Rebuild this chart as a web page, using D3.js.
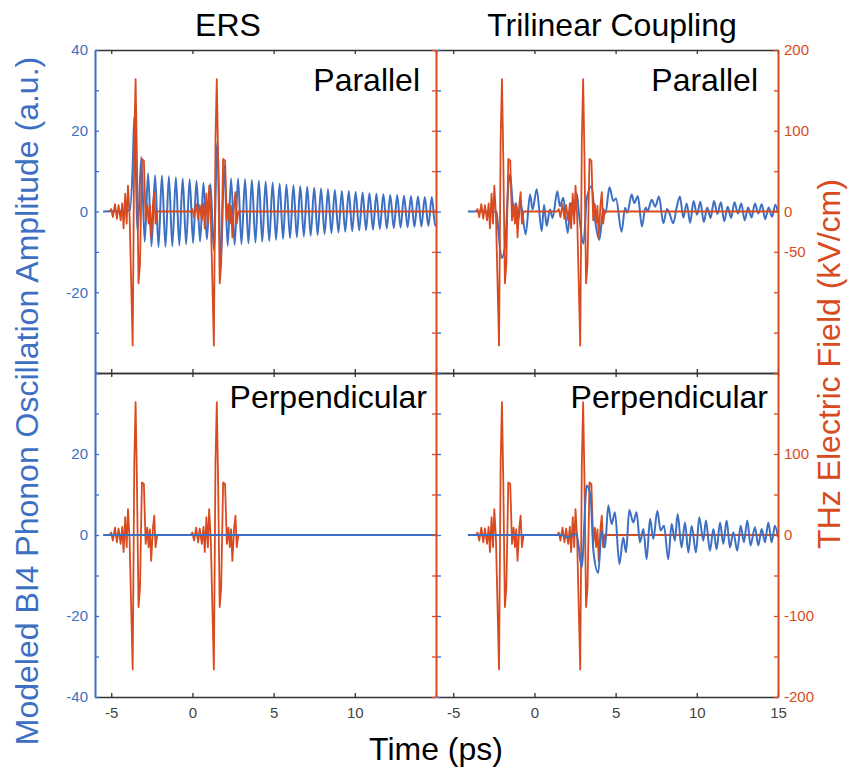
<!DOCTYPE html>
<html>
<head>
<meta charset="utf-8">
<script src="https://cdn.jsdelivr.net/npm/d3@7"></script>
<style>
  body { margin: 0; background: #fff; }
  text { font-family: "Liberation Sans", Arial, Helvetica, sans-serif; }
</style>
</head>
<body>
<div id="chart"></div>
<script>
// Size of the SVG Container
const width = 849;
const height = 770;
const blue = "#3d6fc2";
const red = "#d84b20";
const frameColor = "#333333";

// Tick values and labels
const timeTicks = [-5, 0, 5, 10, 15];
const ampTicks = [-40, -30, -20, -10, 0, 10, 20, 30, 40];
const fieldTicks = [-200, -150, -100, -50, 0, 50, 100, 150, 200];
const ampLabelsTop = [40, 20, 0, -20];
const ampLabelsBottom = [20, 0, -20, -40];
const fieldLabelsTop = [200, 100, 0, -50];
const fieldLabelsBottom = [100, 0, -100, -200];

// THz pulse shape: time relative to the main peak (ps) and field (kV/cm)
const pulseDt = [-1.60, -1.50, -1.40, -1.27, -1.15, -1.05, -0.92, -0.82, -0.74, -0.64, -0.55, -0.47,
  -0.37, -0.29, -0.18, -0.08, 0, 0.08, 0.18, 0.27, 0.39, 0.51, 0.62, 0.72, 0.80, 0.88, 0.96,
  1.07, 1.15, 1.23, 1.33];
const pulseField = [0, 3, -7, 9, -9, 8, -11, 10, -21, 22, -15, 32,
  -5, -73, -166, 90, 164, 69, -89, -65, 65, 63, -11, 9, -15, 7, -32,
  9, 24, -15, 0];

// Main peak times of the two THz pulses (ps)
const ersPulses = [-3.5, 1.5];
const triPulses = [-2.0, 3.0];

// ERS parallel: phonon oscillation extrema [time (ps), amplitude (a.u.)]
const ersParallel = [[-5.5, 0], [-3.85, 0.3], [-3.68, 11], [-3.58, 23.5], [-3.37, -5], [-3.15, 13.5],
  [-2.94, -7.5], [-2.73, 9.5], [-2.52, -8.6], [-2.30, 9.0], [-2.09, -8.8], [-1.88, 8.9], [-1.66, -8.7],
  [-1.45, 8.7], [-1.24, -8.6], [-1.02, 8.5], [-0.81, -8.4], [-0.60, 8.2], [-0.39, -8.1], [-0.17, 8.0],
  [0.04, -7.8], [0.25, 7.6], [0.47, -7.4], [0.68, 7.1], [0.89, -6.9], [1.11, 6.8], [1.32, -9.5],
  [1.53, 17.0], [1.75, -12.5], [1.96, 11.5], [2.17, -8.5], [2.38, 8.2], [2.60, -8.3], [2.81, 8.2],
  [3.02, -8.1], [3.24, 8.0], [3.45, -7.9], [3.66, 7.8], [3.88, -7.7], [4.09, 7.6], [4.30, -7.5],
  [4.51, 7.4], [4.73, -7.3], [4.94, 7.2], [5.15, -7.0], [5.37, 6.9], [5.58, -6.8], [5.79, 6.7],
  [6.01, -6.6], [6.22, 6.5], [6.43, -6.4], [6.64, 6.3], [6.86, -6.2], [7.07, 6.1], [7.28, -6.0],
  [7.50, 5.9], [7.71, -5.8], [7.92, 5.7], [8.14, -5.6], [8.35, 5.5], [8.56, -5.4], [8.77, 5.3],
  [8.99, -5.2], [9.20, 5.1], [9.41, -5.0], [9.63, 5.0], [9.84, -4.9], [10.05, 4.8], [10.27, -4.7],
  [10.48, 4.7], [10.69, -4.6], [10.90, 4.5], [11.12, -4.5], [11.33, 4.4], [11.54, -4.3], [11.76, 4.3],
  [11.97, -4.2], [12.18, 4.1], [12.40, -4.1], [12.61, 4.0], [12.82, -4.0], [13.03, 3.9], [13.25, -3.9],
  [13.46, 3.8], [13.67, -3.8], [13.89, 3.7], [14.10, -3.7], [14.31, 3.6], [14.53, -3.6], [14.74, 3.6],
  [14.95, -3.5], [15.0, -3.2]];

// ERS perpendicular: no phonon response
const ersPerpendicular = [[-5.5, 0], [15.0, 0]];

// Trilinear parallel
const triParallel = [[-4.1, 0], [-2.33, 0], [-2.22, -4.9], [-2.02, -11.5], [-1.81, -8.6], [-1.61, 6.3],
  [-1.50, 9.2], [-1.36, 3.0], [-1.26, -1.2], [-1.14, 2.1], [-0.99, -2.0], [-0.85, 2.1], [-0.54, -5.7],
  [-0.27, 4.2], [-0.11, 0.5], [0.14, 5.5], [0.45, -4.9], [0.59, 1.7], [0.75, -3.6], [0.96, 0.5],
  [1.12, -1.6], [1.41, 5.0], [1.57, 1.3], [1.78, 3.4], [2.05, -5.3], [2.25, 2.1], [2.46, -0.3],
  [2.60, 4.6], [2.76, -1.2], [3.02, -8.0], [3.22, 3.0], [3.52, 6.3], [3.73, -2.0], [4.00, -7.0],
  [4.24, 0.6], [4.38, -0.4], [4.62, 6.0], [4.86, 2.6], [5.02, 3.2], [5.37, -5.0], [5.58, 0.9],
  [5.72, -0.3], [5.99, 4.2], [6.15, 2.1], [6.37, 3.8], [6.62, -3.7], [6.84, 1.0], [6.98, 0.2],
  [7.22, 2.9], [7.44, 1.2], [7.67, 3.7], [7.94, -2.9], [8.16, 0.6], [8.32, -0.5], [8.55, -2.9],
  [8.76, 1.0], [8.96, 3.7], [9.17, -1.5], [9.38, 2.0], [9.59, -2.8], [9.80, 2.6], [10.01, -0.8],
  [10.22, 2.4], [10.43, -2.6], [10.64, 1.0], [10.85, -1.6], [11.06, 2.6], [11.27, -0.6], [11.48, 2.3],
  [11.69, -2.4], [11.90, 1.2], [12.11, -1.6], [12.32, 2.3], [12.53, -0.5], [12.74, 2.0], [12.95, -2.2],
  [13.16, 1.0], [13.37, -1.5], [13.58, 2.0], [13.79, -0.5], [14.00, 1.8], [14.21, -1.9], [14.42, 1.0],
  [14.63, -1.3], [14.84, 1.7], [15.0, -0.3]];

// Trilinear perpendicular
const triPerpendicular = [[-4.1, 0], [1.70, 0], [1.98, -0.6], [2.60, 0.25], [2.91, -8.0], [3.22, 12.2],
  [3.46, 9.3], [3.63, -3.9], [3.93, -9.3], [4.14, 1.1], [4.34, -3.1], [4.55, 7.3], [4.75, 2.7],
  [4.96, 5.6], [5.23, -7.2], [5.47, -0.6], [5.64, -4.3], [5.84, 6.2], [6.09, 3.1], [6.29, 5.6],
  [6.50, -1.8], [6.71, 1.5], [6.91, -6.0], [7.12, 4.0], [7.32, -1.0], [7.57, 6.0], [7.77, 1.1],
  [7.98, 2.3], [8.24, -6.0], [8.45, 2.7], [8.65, -1.4], [8.82, 5.2], [9.06, -3.1], [9.27, 3.1],
  [9.48, -4.3], [9.68, 2.3], [9.95, -4.3], [10.15, 4.4], [10.40, -1.4], [10.56, 3.6], [10.81, -3.9],
  [11.02, 1.5], [11.22, -3.5], [11.43, 3.1], [11.63, -2.2], [11.84, 3.6], [12.04, -3.1], [12.25, 0.7],
  [12.49, -3.9], [12.70, 2.3], [12.90, -1.8], [13.11, 3.6], [13.31, -2.6], [13.58, 1.9], [13.79, -2.6],
  [13.99, 1.5], [14.20, -1.8], [14.40, 3.1], [14.61, -1.8], [14.81, 2.3], [15.0, -0.6]];

// Create the SVG Container
const svg = d3.select("#chart")
  .append("svg")
  .attr("width", width)
  .attr("height", height);

// Panel frames
const colLeft = [95, 436];
const colRight = [437, 778];
const rowTop = [50, 373];
const rowBottom = [373, 697];

const panels = [
  { id: "ersPar", cols: colLeft, rows: rowTop, pulses: ersPulses, phonon: ersParallel, label: "Parallel", labelX: 420, labelY: 91, redOnTop: true, isLeft: true, isBottom: false },
  { id: "triPar", cols: colRight, rows: rowTop, pulses: triPulses, phonon: triParallel, label: "Parallel", labelX: 758, labelY: 91, redOnTop: true, isLeft: false, isBottom: false },
  { id: "ersPerp", cols: colLeft, rows: rowBottom, pulses: ersPulses, phonon: ersPerpendicular, label: "Perpendicular", labelX: 427, labelY: 408, redOnTop: false, isLeft: true, isBottom: true },
  { id: "triPerp", cols: colRight, rows: rowBottom, pulses: triPulses, phonon: triPerpendicular, label: "Perpendicular", labelX: 768, labelY: 408, redOnTop: false, isLeft: false, isBottom: true }
];

// Build THz trace from the pulse shape and pulse times
function thzTrace(pulses) {
  const pts = [];
  pulses.forEach(p => {
    pulseDt.forEach((dt, i) => pts.push([p + dt, pulseField[i]]));
  });
  pts.push([15, 0]);
  return pts;
}

const defs = svg.append("defs");

panels.forEach(panel => {
  const x = d3.scaleLinear().domain([-6, 15]).range(panel.cols);
  const yAmp = d3.scaleLinear().domain([-40, 40]).range([panel.rows[1], panel.rows[0]]);
  const yField = d3.scaleLinear().domain([-200, 200]).range([panel.rows[1], panel.rows[0]]);

  defs.append("clipPath").attr("id", "clip-" + panel.id)
    .append("rect")
    .attr("x", panel.cols[0]).attr("y", panel.rows[0])
    .attr("width", panel.cols[1] - panel.cols[0])
    .attr("height", panel.rows[1] - panel.rows[0]);

  const g = svg.append("g").attr("clip-path", "url(#clip-" + panel.id + ")");

  const phononLine = d3.line()
    .x(d => x(d[0]))
    .y(d => yAmp(d[1]))
    .curve(d3.curveMonotoneX);
  const fieldLine = d3.line()
    .x(d => x(d[0]))
    .y(d => yField(d[1]));

  function drawPhonon() {
    g.append("path").datum(panel.phonon)
      .attr("d", phononLine)
      .attr("fill", "none")
      .attr("stroke", blue)
      .attr("stroke-width", 2);
  }
  function drawField() {
    g.append("path").datum(thzTrace(panel.pulses))
      .attr("d", fieldLine)
      .attr("fill", "none")
      .attr("stroke", red)
      .attr("stroke-width", 1.8)
      .attr("stroke-linejoin", "round");
  }
  if (panel.redOnTop) { drawPhonon(); drawField(); } else { drawField(); drawPhonon(); }

  // Top and bottom time axes (inward ticks)
  const top = svg.append("g")
    .attr("transform", "translate(0," + panel.rows[0] + ")")
    .call(d3.axisTop(x).tickValues(timeTicks).tickSize(-4).tickSizeOuter(0).tickFormat(""));
  const bottomLabels = panel.isLeft ? [-5, 0, 5, 10] : timeTicks;
  const bottom = svg.append("g")
    .attr("transform", "translate(0," + panel.rows[1] + ")")
    .call(d3.axisBottom(x).tickValues(timeTicks).tickSize(-4).tickSizeOuter(0).tickPadding(10)
      .tickFormat(d => (panel.isBottom && bottomLabels.includes(d)) ? String(d) : ""));
  [top, bottom].forEach(a => {
    a.select(".domain").attr("stroke", frameColor).attr("stroke-width", 1.6);
    a.selectAll(".tick line").attr("stroke", frameColor).attr("stroke-width", 1.3);
    a.selectAll(".tick text").attr("fill", "#444").attr("font-size", 15)
      .attr("font-family", "Liberation Sans, Arial, sans-serif");
  });

  // Left amplitude axis
  const ampLabels = panel.isBottom ? ampLabelsBottom : ampLabelsTop;
  const left = svg.append("g")
    .attr("transform", "translate(" + panel.cols[0] + ",0)")
    .call(d3.axisLeft(yAmp).tickValues(ampTicks).tickSize(-4).tickSizeOuter(0).tickPadding(7)
      .tickFormat(d => (panel.isLeft && ampLabels.includes(d)) ? String(d) : ""));
  left.select(".domain").attr("stroke", panel.isLeft ? blue : "none").attr("stroke-width", 2);
  left.selectAll(".tick line").attr("stroke", blue).attr("stroke-width", 1.3);
  left.selectAll(".tick text").attr("fill", blue).attr("font-size", 15)
    .attr("font-family", "Liberation Sans, Arial, sans-serif");

  // Right field axis
  const fieldLabels = panel.isBottom ? fieldLabelsBottom : fieldLabelsTop;
  const right = svg.append("g")
    .attr("transform", "translate(" + panel.cols[1] + ",0)")
    .call(d3.axisRight(yField).tickValues(fieldTicks).tickSize(-4).tickSizeOuter(0).tickPadding(6)
      .tickFormat(d => (!panel.isLeft && fieldLabels.includes(d)) ? String(d) : ""));
  right.select(".domain").attr("stroke", red).attr("stroke-width", 2);
  right.selectAll(".tick line").attr("stroke", red).attr("stroke-width", 1.3);
  right.selectAll(".tick text").attr("fill", red).attr("font-size", 15)
    .attr("font-family", "Liberation Sans, Arial, sans-serif");

  // Panel label
  svg.append("text")
    .attr("x", panel.labelX)
    .attr("y", panel.labelY)
    .attr("text-anchor", "end")
    .attr("font-size", 32)
    .attr("fill", "#000")
    .text(panel.label);
});

// Column titles
svg.append("text").attr("x", 228).attr("y", 36).attr("text-anchor", "middle")
  .attr("font-size", 32).text("ERS");
svg.append("text").attr("x", 612).attr("y", 36).attr("text-anchor", "middle")
  .attr("font-size", 32).text("Trilinear Coupling");

// Axis titles
svg.append("text").attr("x", 436).attr("y", 760).attr("text-anchor", "middle")
  .attr("font-size", 32).text("Time (ps)");
svg.append("text")
  .attr("transform", "translate(38,401) rotate(-90)")
  .attr("text-anchor", "middle")
  .attr("font-size", 32)
  .attr("fill", blue)
  .text("Modeled BI4 Phonon Oscillation Amplitude (a.u.)");
svg.append("text")
  .attr("transform", "translate(840,364) rotate(-90)")
  .attr("text-anchor", "middle")
  .attr("font-size", 32)
  .attr("fill", red)
  .text("THz Electric Field (kV/cm)");
</script>
</body>
</html>
